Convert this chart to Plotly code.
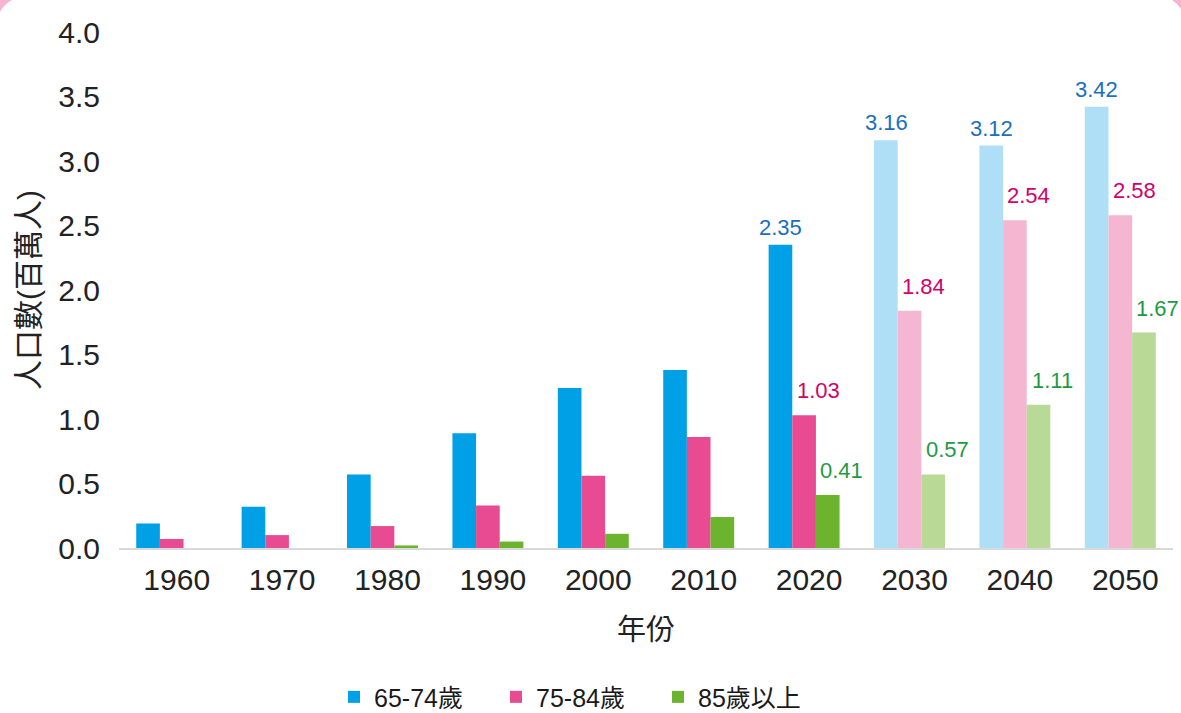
import plotly.graph_objects as go

# ── Data ────────────────────────────────────────────────
YEARS = ["1960", "1970", "1980", "1990", "2000", "2010", "2020", "2030", "2040", "2050"]
AGE_65_74 = [0.19, 0.32, 0.57, 0.89, 1.24, 1.38, 2.35, 3.16, 3.12, 3.42]
AGE_75_84 = [0.07, 0.10, 0.17, 0.33, 0.56, 0.86, 1.03, 1.84, 2.54, 2.58]
AGE_85_UP = [0.00, 0.00, 0.02, 0.05, 0.11, 0.24, 0.41, 0.57, 1.11, 1.67]
SERIES_NAMES = ["65-74歲", "75-84歲", "85歲以上"]
LABEL_FROM = "2020"  # value labels from this year on
PROJ_FROM = "2030"   # projected years drawn in light colours

# ── Style ───────────────────────────────────────────────
FONT = "Liberation Sans, Arial, Noto Sans CJK TC, sans-serif"
SOLID = ["#00A0E6", "#E84B92", "#6CB42E"]
LIGHT = ["#AEDFF6", "#F4B6D1", "#B9D997"]
LABEL_COLORS = ["#1A6FBF", "#D4006B", "#1F9A44"]
BAR_W = 23.5
LABEL_XSHIFT = [-BAR_W, 14, BAR_W + 14]
LABEL_YSHIFT = [3, 10, 10]

fig = go.Figure()
proj_idx = YEARS.index(PROJ_FROM)
label_idx = YEARS.index(LABEL_FROM)
for i, (name, vals) in enumerate(zip(SERIES_NAMES, [AGE_65_74, AGE_75_84, AGE_85_UP])):
    colors = [SOLID[i] if k < proj_idx else LIGHT[i] for k in range(len(YEARS))]
    fig.add_trace(go.Bar(
        x=YEARS, y=vals, name=name,
        marker=dict(color=colors, line=dict(width=0)),
        showlegend=False, hoverinfo="x+y",
    ))
    # legend proxy
    fig.add_trace(go.Scatter(
        x=[YEARS[0]], y=[None], mode="markers", name=name,
        marker=dict(symbol="square", size=12, color=SOLID[i], line=dict(width=0)),
        hoverinfo="skip", showlegend=True,
    ))
    # value labels (x as category index: year strings would be read as numbers)
    for k, v in enumerate(vals):
        if k < label_idx:
            continue
        fig.add_annotation(
            x=k, y=v, text=f"{v:.2f}", showarrow=False,
            xanchor="center", yanchor="bottom",
            xshift=LABEL_XSHIFT[i], yshift=LABEL_YSHIFT[i],
            font=dict(size=22, color=LABEL_COLORS[i], family=FONT),
        )

# pink rounded-frame corners (outside the plot area, paper coords)
PW, PH, L0, B0 = 1054, 516, 119, 548
def px(X):
    return (X - L0) / PW
def py(Y):
    return (B0 - Y) / PH
fig.add_shape(type="path", xref="paper", yref="paper",
              path=f"M {px(0)},{py(0)} L {px(12)},{py(0)} Q {px(4)},{py(4)} {px(0)},{py(12)} Z",
              fillcolor="#F6B4D2", line=dict(width=0), layer="above")
fig.add_shape(type="path", xref="paper", yref="paper",
              path=f"M {px(1181)},{py(0)} L {px(1172)},{py(0)} Q {px(1177)},{py(3)} {px(1181)},{py(9)} Z",
              fillcolor="#F6B4D2", line=dict(width=0), layer="above")

fig.update_layout(
    barmode="group",
    bargap=0.327,
    bargroupgap=0,
    width=1181, height=713,
    margin=dict(l=119, r=8, t=32, b=165, autoexpand=False),
    plot_bgcolor="white",
    paper_bgcolor="white",
    font=dict(family=FONT, size=28, color="#222222"),
    legend=dict(
        orientation="h",
        x=px(334), xanchor="left",
        y=-0.289, yanchor="middle",
        font=dict(size=25, color="#1a1a1a"),
        entrywidth=117, entrywidthmode="pixels",
        itemsizing="constant",
    ),
)

fig.update_xaxes(
    type="category",
    categoryorder="array", categoryarray=YEARS,
    range=[-0.5, len(YEARS) - 0.5],
    showgrid=False,
    showline=True, linecolor="#D9D9D9", linewidth=2,
    ticks="", tickfont=dict(size=30),
    ticklabelstandoff=4, ticklabelshift=5,
    title=dict(text="年份", font=dict(size=29), standoff=25),
)
fig.update_yaxes(
    range=[0, 4], dtick=0.5, tickformat=".1f",
    showgrid=False, zeroline=False, showline=False,
    ticks="", tickfont=dict(size=30),
    ticklabelstandoff=18,
    title=dict(text="人口數(百萬人)", font=dict(size=30), standoff=9),
)

fig.write_html("out.html", config={"displayModeBar": False},
               post_script="document.body.style.margin='0';")
